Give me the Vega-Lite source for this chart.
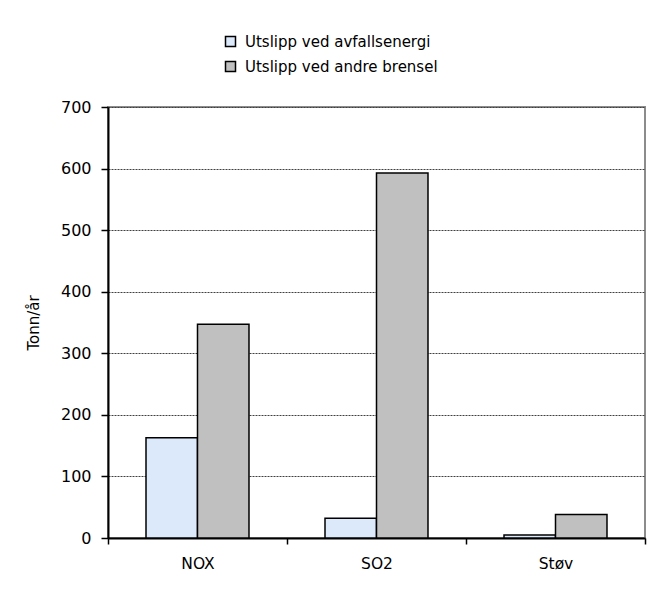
{
  "$schema": "https://vega.github.io/schema/vega-lite/v6.json",
  "autosize": {"type": "none"},
  "padding": {"left": 108, "top": 107, "right": 20, "bottom": 56},
  "width": 537,
  "height": 431,
  "background": "white",
  "config": {
    "font": "DejaVu Sans",
    "view": {"stroke": "#8c8c8c", "strokeWidth": 2}
  },
  "data": {
    "values": [
      {"komponent": "NOX", "serie": "Utslipp ved avfallsenergi", "verdi": 163},
      {"komponent": "NOX", "serie": "Utslipp ved andre brensel", "verdi": 347},
      {"komponent": "SO2", "serie": "Utslipp ved avfallsenergi", "verdi": 32},
      {"komponent": "SO2", "serie": "Utslipp ved andre brensel", "verdi": 593},
      {"komponent": "Støv", "serie": "Utslipp ved avfallsenergi", "verdi": 5},
      {"komponent": "Støv", "serie": "Utslipp ved andre brensel", "verdi": 38}
    ]
  },
  "mark": {"type": "bar", "stroke": "black", "strokeWidth": 1.5},
  "encoding": {
    "x": {
      "field": "komponent",
      "type": "nominal",
      "sort": ["NOX", "SO2", "Støv"],
      "scale": {"paddingInner": 0, "paddingOuter": 0},
      "axis": {
        "title": null,
        "labelAngle": 0,
        "labelFontSize": 15.5,
        "labelColor": "black",
        "labelPadding": 12,
        "tickBand": "extent",
        "tickSize": 6,
        "tickColor": "black",
        "tickWidth": 1.5,
        "domainColor": "black",
        "domainWidth": 2,
        "grid": false
      }
    },
    "xOffset": {
      "field": "serie",
      "type": "nominal",
      "sort": ["Utslipp ved avfallsenergi", "Utslipp ved andre brensel"],
      "scale": {"paddingInner": 0, "paddingOuter": 0.738}
    },
    "y": {
      "field": "verdi",
      "type": "quantitative",
      "scale": {"domain": [0, 700], "nice": false},
      "axis": {
        "title": "Tonn/år",
        "titleFontSize": 15,
        "titleFontWeight": "normal",
        "titleColor": "black",
        "titlePadding": 19,
        "values": [0, 100, 200, 300, 400, 500, 600, 700],
        "labelFontSize": 16,
        "labelColor": "black",
        "labelPadding": 10,
        "tickSize": 7,
        "tickColor": "black",
        "tickWidth": 1.5,
        "domainColor": "black",
        "domainWidth": 2,
        "grid": true,
        "gridColor": "#404040",
        "gridDash": [2, 1],
        "gridWidth": 1
      }
    },
    "fill": {
      "field": "serie",
      "type": "nominal",
      "sort": ["Utslipp ved avfallsenergi", "Utslipp ved andre brensel"],
      "scale": {"range": ["#dce9fb", "#c0c0c0"]},
      "legend": {
        "title": null,
        "orient": "none",
        "legendX": 115,
        "legendY": -73,
        "direction": "vertical",
        "symbolType": "square",
        "symbolSize": 100,
        "symbolStrokeColor": "black",
        "symbolStrokeWidth": 1.5,
        "labelFontSize": 15,
        "labelLimit": 400,
        "labelColor": "black",
        "labelOffset": 7,
        "rowPadding": 8
      }
    }
  }
}
